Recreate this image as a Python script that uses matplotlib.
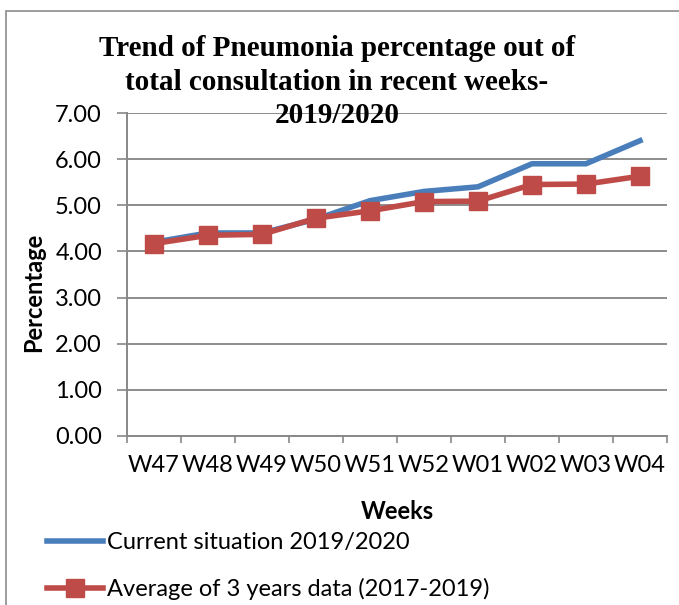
import numpy as np
import matplotlib.pyplot as plt
from matplotlib.lines import Line2D
from matplotlib.patches import Rectangle

weeks = ["W47", "W48", "W49", "W50", "W51", "W52", "W01", "W02", "W03", "W04"]
current = [4.2, 4.4, 4.4, 4.7, 5.1, 5.3, 5.4, 5.9, 5.9, 6.4]
average = [4.17, 4.35, 4.37, 4.72, 4.88, 5.08, 5.09, 5.45, 5.46, 5.63]
yticks = [0, 1, 2, 3, 4, 5, 6, 7]

BLUE = "#4A7EBB"
RED = "#BE4B48"
SANS = ["Lato", "DejaVu Sans"]
FS = 17

W, H = 679, 605
fig = plt.figure(figsize=(W / 100, H / 100), dpi=100)

# outer chart border (runs off right/bottom edge)
fig.patches.append(Rectangle((6 / W, -0.05), 1.1, (H - 11) / H + 0.05, transform=fig.transFigure,
                             fill=False, edgecolor="#8c8c8c", linewidth=1.2))

ax = fig.add_axes([127 / W, (H - 436) / H, (667 - 127) / W, (436 - 113) / H])
x = np.arange(len(weeks))
ax.plot(x, current, color=BLUE, linewidth=4, zorder=3)
ax.plot(x, average, color=RED, linewidth=4, marker="s", markersize=12.5,
        markeredgecolor=RED, zorder=4)

ax.set_xlim(-0.5, len(weeks) - 0.5)
ax.set_ylim(0, 7)
ax.set_yticks(yticks)
ax.set_yticklabels([f"{v:.2f}" for v in yticks], fontsize=FS, family=SANS)
ax.set_xticks(np.arange(len(weeks) + 1) - 0.5)
ax.set_xticklabels([])
ax.set_xticks(x, minor=True)
ax.set_xticklabels(weeks, minor=True, fontsize=FS, family=SANS)
ax.tick_params(axis="x", which="major", length=5, width=1.2, color="#888888", direction="out")
ax.tick_params(axis="x", which="minor", length=0, pad=14)
ax.tick_params(axis="y", length=7, width=1.2, color="#888888", direction="out", pad=11)

ax.grid(axis="y", color="#8c8c8c", linewidth=1.4)
ax.set_axisbelow(True)
for s in ["top", "right"]:
    ax.spines[s].set_visible(False)
for s in ["left", "bottom"]:
    ax.spines[s].set_color("#888888")
    ax.spines[s].set_linewidth(1.4)

ax.set_ylabel("Percentage", fontsize=FS, fontweight="bold", family=SANS)
ax.yaxis.set_label_coords((45 - 127) / 540, (436 - 292) / 323)
ax.set_xlabel("Weeks", fontsize=FS, fontweight="bold", family=SANS, labelpad=17)

fig.text(337 / W, 1 - 82 / H,
         "Trend of Pneumonia percentage out of\ntotal consultation in recent weeks-\n2019/2020",
         ha="center", va="center", fontsize=21, fontweight="bold",
         family="Liberation Serif", linespacing=1.3)

handles = [Line2D([], [], color=BLUE, linewidth=4),
           Line2D([], [], color=RED, linewidth=4, marker="s", markersize=12.5)]
fig.legend(handles, ["Current situation 2019/2020", "Average of 3 years data (2017-2019)"],
           loc="upper left", bbox_to_anchor=(38 / W, 1 - 523 / H), frameon=False,
           prop={"family": SANS, "size": FS}, handlelength=2.37, handletextpad=0.17,
           labelspacing=1.05, borderaxespad=0)

fig.savefig("out.png", dpi=100)
